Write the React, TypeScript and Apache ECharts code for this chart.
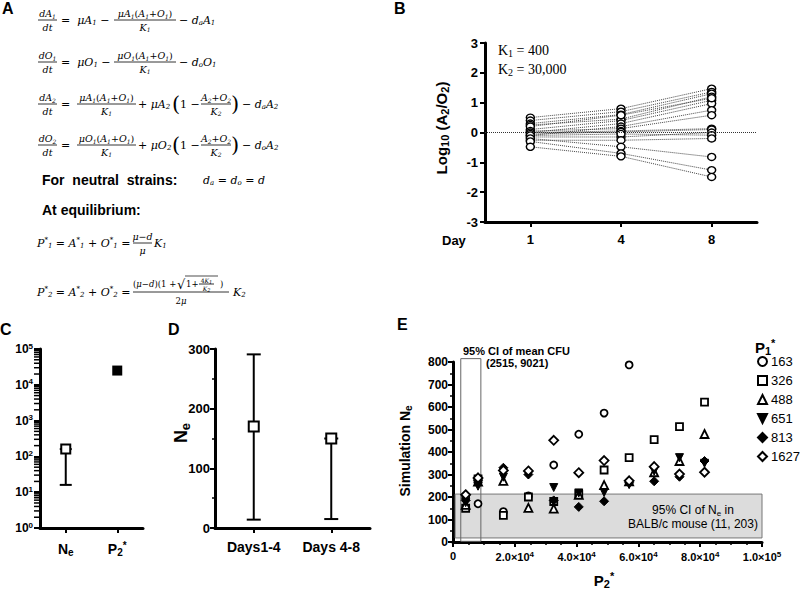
import React, { useEffect, useRef } from 'react';
import * as echarts from 'echarts';

// ---------- DATA ----------
const B_DAYS = ['1', '4', '8'];
const B_TRAJ: number[][] = [
  [0.5, 0.8, 1.47],
  [0.4, 0.7, 1.36],
  [0.3, 0.6, 1.3],
  [0.25, 0.45, 1.2],
  [0.1, 0.4, 1.08],
  [0.0, 0.3, 0.97],
  [0.2, 0.58, 1.15],
  [-0.1, 0.2, 0.75],
  [0.05, 0.13, 0.58],
  [0.0, 0.05, 0.13],
  [-0.05, 0.02, 0.1],
  [-0.15, -0.15, 0.0],
  [-0.1, -0.05, -0.09],
  [-0.26, -0.26, -0.2],
  [-0.2, -0.48, -0.82],
  [-0.3, -0.7, -1.26],
  [-0.48, -0.8, -1.49],
];
const B_PARAMS = ['K_1 = 400', 'K_2 = 30,000'];

const C_CATS = ['Ne', 'P2*'];
const C_NE = 160;
const C_NE_CI = [16, 160];
const C_P2 = 25000;
const C_DECADES = [1, 10, 100, 1000, 10000];
const C_MINOR_STEPS = [2, 3, 4, 5, 6, 7, 8, 9];

const D_CATS = ['Days1-4', 'Days 4-8'];
const D_VALUES = [170, 150];
const D_LOW = [14, 15];
const D_HIGH = [291, 150];

const E_P2 = [4100, 8100, 16300, 24400, 32600, 40700, 48900, 57000, 65100, 73300, 81400];
const E_NAMES = ['163', '326', '488', '651', '813', '1627'];
const E_163 = [200, 170, 135, 205, 342, 479, 573, 787, null, null, null];
const E_326 = [150, 280, 118, 200, 180, 213, 320, 375, 455, 513, 622];
const E_488 = [165, 268, 272, 152, 148, 210, 253, 270, 310, 360, 480];
const E_651 = [175, 248, 288, 300, 242, 218, 220, 255, 315, 375, 350];
const E_813 = [185, 275, 330, 300, 185, 156, 181, 263, 270, 290, 360];
const E_1627 = [210, 285, 318, 316, 452, 308, 362, 272, 335, 302, 310];
const E_NE_BAND = [18, 213]; // drawn extent of 95% CI of Ne (11, 203)
const E_NE_BAND_X = [700, 100000];
const E_CFU_BAND = [2515, 9021];
const E_CFU_BAND_Y = [3, 815];

// ---------- STYLE ----------
const SANS = "'Liberation Sans', Arial, sans-serif";
const SERIF = "'Liberation Serif', 'Times New Roman', serif";
const MATH = "'DejaVu Serif', serif";
const AX_LINE = { show: true, onZero: false, lineStyle: { color: '#000', width: 3 } };
const AX_TICK = { show: true, length: 5, lineStyle: { color: '#000', width: 2 } };
const lbl = (size: number, margin: number) => ({
  color: '#000', fontFamily: SANS, fontWeight: 'bold', fontSize: size, margin,
});
const supRich = (size: number) => ({
  b: { fontFamily: SANS, fontWeight: 'bold', fontSize: size, color: '#000' },
  p: { fontFamily: SANS, fontWeight: 'bold', fontSize: Math.round(size * 0.7), color: '#000', padding: [0, 0, Math.round(size * 0.5), 0] },
  s: { fontFamily: SANS, fontWeight: 'bold', fontSize: Math.round(size * 0.7), color: '#000', padding: [Math.round(size * 0.5), 0, 0, 0] },
});

function errorBar(cap: number) {
  return (params: any, api: any) => {
    const x = api.value(0);
    const lo = api.coord([x, api.value(1)]);
    const hi = api.coord([x, api.value(2)]);
    const st = { stroke: '#000', lineWidth: 2 };
    const h = cap / 2;
    return {
      type: 'group',
      children: [
        { type: 'line', shape: { x1: lo[0], y1: lo[1], x2: hi[0], y2: hi[1] }, style: st },
        { type: 'line', shape: { x1: lo[0] - h, y1: lo[1], x2: lo[0] + h, y2: lo[1] }, style: st },
        { type: 'line', shape: { x1: hi[0] - h, y1: hi[1], x2: hi[0] + h, y2: hi[1] }, style: st },
      ],
    };
  };
}

// log-spaced minor ticks on panel C's y axis, placed by the log axis itself
function minorTick(params: any, api: any) {
  const p = api.coord([0, api.value(1)]);
  const left = params.coordSys.x;
  return {
    type: 'line',
    shape: { x1: left - 6, y1: p[1], x2: left, y2: p[1] },
    style: { stroke: '#000', lineWidth: 1.5 },
  };
}

function buildOption(): any {
  const open = { color: '#fff', borderColor: '#000', borderWidth: 1.8, opacity: 1 };
  const filled = { color: '#000', borderColor: '#000', borderWidth: 1, opacity: 1 };
  const eSeries = [
    { arr: E_163, symbol: 'circle', size: 7, st: open },
    { arr: E_326, symbol: 'rect', size: 7, st: open },
    { arr: E_488, symbol: 'triangle', size: 8, st: open },
    { arr: E_651, symbol: 'path://M0,0 L10,0 L5,10 Z', size: 8, st: filled },
    { arr: E_813, symbol: 'diamond', size: 9, st: filled },
    { arr: E_1627, symbol: 'diamond', size: 9, st: open },
  ].map((s, i) => ({
    type: 'scatter',
    name: E_NAMES[i],
    xAxisIndex: 3,
    yAxisIndex: 3,
    symbol: s.symbol,
    symbolSize: s.size,
    itemStyle: s.st,
    z: 5,
    data: E_P2.map((x, j) => [x, s.arr[j]]).filter((d) => d[1] !== null),
  }));

  const bSeries = B_TRAJ.map((t, i) => ({
    type: 'line',
    xAxisIndex: 0,
    yAxisIndex: 0,
    data: t,
    symbol: 'circle',
    symbolSize: [8, 7],
    itemStyle: { color: '#fff', borderColor: '#000', borderWidth: 1.4, opacity: 1 },
    lineStyle: { type: 'dotted', color: '#444', width: 1 },
    silent: true,
    z: 3,
    markLine: i === 0 ? {
      silent: true,
      symbol: ['none', 'none'],
      label: { show: false },
      lineStyle: { type: 'dotted', color: '#333', width: 1 },
      data: [{ yAxis: 0 }],
    } : undefined,
  }));

  const cMinor: number[][] = [];
  C_DECADES.forEach((dec) => C_MINOR_STEPS.forEach((k) => cMinor.push([0, k * dec])));

  return {
    animation: false,
    backgroundColor: '#fff',
    grid: [
      { left: 485, top: 43, width: 272, height: 179 },
      { left: 40, top: 349, width: 103, height: 179 },
      { left: 215, top: 349, width: 155, height: 179 },
      { left: 453, top: 362, width: 309, height: 180 },
    ],
    xAxis: [
      {
        type: 'category', gridIndex: 0, data: B_DAYS, boundaryGap: true,
        axisLine: AX_LINE, axisTick: { ...AX_TICK, alignWithLabel: true },
        axisLabel: { ...lbl(13, 11), interval: 0 }, splitLine: { show: false },
      },
      {
        type: 'category', gridIndex: 1, data: C_CATS, boundaryGap: true,
        axisLine: AX_LINE, axisTick: { ...AX_TICK, alignWithLabel: true },
        axisLabel: {
          ...lbl(14, 12),
          interval: 0,
          formatter: (v: string) => (v === 'Ne' ? '{b|N}{s|e}' : '{b|P}{s|2}{p|*}'),
          rich: supRich(14),
        },
        splitLine: { show: false },
      },
      {
        type: 'category', gridIndex: 2, data: D_CATS, boundaryGap: true,
        axisLine: AX_LINE, axisTick: { ...AX_TICK, alignWithLabel: true },
        axisLabel: { ...lbl(14, 12), interval: 0 }, splitLine: { show: false },
      },
      {
        type: 'value', gridIndex: 3, min: 0, max: 100000, interval: 20000,
        axisLine: AX_LINE, axisTick: AX_TICK,
        minorTick: { show: true, splitNumber: 4, length: 3, lineStyle: { color: '#000', width: 1.5 } },
        axisLabel: {
          ...lbl(11, 8),
          formatter: (v: number) => {
            if (v === 0) return '{b|0}';
            const e = Math.floor(Math.log10(v) + 1e-9);
            return `{b|${(v / Math.pow(10, e)).toFixed(1)}×10}{p|${e}}`;
          },
          rich: supRich(11),
        },
        splitLine: { show: false },
      },
    ],
    yAxis: [
      {
        type: 'value', gridIndex: 0, min: -3, max: 3, interval: 1,
        axisLine: AX_LINE, axisTick: AX_TICK, axisLabel: lbl(13, 7), splitLine: { show: false },
      },
      {
        type: 'log', logBase: 10, gridIndex: 1, min: 1, max: 100000,
        axisLine: AX_LINE, axisTick: { ...AX_TICK, length: 6 },
        axisLabel: {
          ...lbl(12, 7),
          formatter: (v: number) => `{b|10}{p|${Math.round(Math.log10(v))}}`,
          rich: supRich(12),
        },
        splitLine: { show: false },
      },
      {
        type: 'value', gridIndex: 2, min: 0, max: 300, interval: 100,
        axisLine: AX_LINE, axisTick: AX_TICK,
        minorTick: { show: true, splitNumber: 2, length: 3, lineStyle: { color: '#000', width: 1.5 } },
        axisLabel: lbl(13, 5), splitLine: { show: false },
      },
      {
        type: 'value', gridIndex: 3, min: 0, max: 800, interval: 100,
        axisLine: AX_LINE, axisTick: AX_TICK,
        minorTick: { show: true, splitNumber: 2, length: 3, lineStyle: { color: '#000', width: 1.5 } },
        axisLabel: lbl(12, 5), splitLine: { show: false },
      },
    ],
    legend: {
      data: E_NAMES,
      orient: 'vertical',
      left: 757,
      top: 355,
      padding: 0,
      itemWidth: 9,
      itemHeight: 9,
      itemGap: 6,
      selectedMode: false,
      textStyle: { fontFamily: SANS, fontSize: 13, color: '#000', lineHeight: 12, padding: [0, 0, 0, -1] },
    },
    series: [
      ...bSeries,
      {
        type: 'custom', xAxisIndex: 1, yAxisIndex: 1, renderItem: minorTick, clip: false,
        encode: { x: 0, y: 1 }, data: cMinor, z: 6, silent: true,
      },
      {
        type: 'custom', xAxisIndex: 1, yAxisIndex: 1, renderItem: errorBar(12),
        encode: { x: 0, y: [1, 2] }, data: [[0, C_NE_CI[0], C_NE_CI[1]]], z: 3, silent: true,
      },
      {
        type: 'scatter', xAxisIndex: 1, yAxisIndex: 1, data: [[C_CATS[0], C_NE]],
        symbol: 'rect', symbolSize: 9, itemStyle: { color: '#fff', borderColor: '#000', borderWidth: 2, opacity: 1 }, z: 5,
      },
      {
        type: 'scatter', xAxisIndex: 1, yAxisIndex: 1, data: [[C_CATS[1], C_P2]],
        symbol: 'rect', symbolSize: 10, itemStyle: { color: '#000', opacity: 1 }, z: 5,
      },
      {
        type: 'custom', xAxisIndex: 2, yAxisIndex: 2, renderItem: errorBar(14),
        encode: { x: 0, y: [1, 2] }, data: D_CATS.map((_, i) => [i, D_LOW[i], D_HIGH[i]]), z: 3, silent: true,
      },
      {
        type: 'scatter', xAxisIndex: 2, yAxisIndex: 2, data: D_CATS.map((c, i) => [c, D_VALUES[i]]),
        symbol: 'rect', symbolSize: 10, itemStyle: { color: '#fff', borderColor: '#000', borderWidth: 2, opacity: 1 }, z: 5,
      },
      ...eSeries,
    ],
  };
}

// ---------- TEXT HELPERS ----------
function mrich(s: string, p: string): string {
  let out = '';
  let cur = '';
  let curStyle = '';
  const push = (style: string, ch: string) => {
    if (style !== curStyle) {
      if (cur) out += `{${curStyle}|${cur}}`;
      cur = '';
      curStyle = style;
    }
    cur += ch;
  };
  for (let i = 0; i < s.length; i++) {
    const c = s[i];
    if (c === '_') push(p + 's', s[++i]);
    else if (c === '^') push(p + 'p', s[++i]);
    else if (/[A-Za-zμ]/.test(c)) push(p + 'i', c);
    else push(p + 'n', c);
  }
  if (cur) out += `{${curStyle}|${cur}}`;
  return out;
}
function mathStyles(p: string, size: number) {
  const sub = Math.max(5, Math.round(size * 0.68));
  return {
    [p + 'i']: { fontFamily: MATH, fontStyle: 'italic', fontSize: size, fill: '#000' },
    [p + 'n']: { fontFamily: MATH, fontSize: size, fill: '#000' },
    [p + 's']: { fontFamily: MATH, fontStyle: 'italic', fontSize: sub, fill: '#000', padding: [Math.round(size * 0.5), 0, 0, 0] },
    [p + 'p']: { fontFamily: MATH, fontSize: sub, fill: '#000', padding: [0, 0, Math.round(size * 0.5), 0] },
  };
}
const RICH = { ...mathStyles('L', 11), ...mathStyles('S', 9.5), ...mathStyles('M', 8.5), ...mathStyles('T', 6) };

const T = (x: number, y: number, s: string, p: string, align = 'left') => ({
  type: 'text', x, y, z: 10,
  style: { text: mrich(s, p), rich: RICH, align, verticalAlign: 'middle', textAlign: align, textVerticalAlign: 'middle', fill: '#000' },
});
const L = (x1: number, y1: number, x2: number, y2: number, w = 0.8) => ({
  type: 'line', z: 10, shape: { x1, y1, x2, y2 }, style: { stroke: '#000', lineWidth: w },
});
const frac = (x: number, y: number, num: string, den: string, w: number, p = 'S') => {
  const off = p === 'T' ? 4 : 6.5;
  return [L(x, y, x + w, y), T(x + w / 2, y - off, num, p, 'center'), T(x + w / 2, y + off + 0.5, den, p, 'center')];
};
const paren = (x: number, y: number, ch: string) => ({
  type: 'text', x, y, z: 10,
  style: { text: ch, font: `21px ${MATH}`, fill: '#000', align: 'left', verticalAlign: 'middle', textAlign: 'left', textVerticalAlign: 'middle' },
});
const S = (x: number, y: number, text: string, size: number, weight = 'bold', align = 'left', rotation = 0, family = SANS) => {
  const r = supRich(size) as any;
  for (const k of Object.keys(r)) {
    r[k] = { ...r[k], fontWeight: weight, fontFamily: family, fill: '#000' };
  }
  return {
    type: 'text', x, y, rotation, z: 10,
    style: { text, rich: r, align, verticalAlign: 'middle', textAlign: align, textVerticalAlign: 'middle', fill: '#000' },
  };
};

function buildGraphics(chart: any): any[] {
  const g: any[] = [];
  // Panel labels
  g.push(S(2, 8, '{b|A}', 16));
  g.push(S(394, 8, '{b|B}', 16));
  g.push(S(0, 329, '{b|C}', 16));
  g.push(S(168, 329, '{b|D}', 16));
  g.push(S(397, 324, '{b|E}', 16));

  // Panel A equations
  g.push(...frac(38, 20, 'dA_1', 'dt', 19));
  g.push(T(61, 20, '=  μA_1 −', 'L'));
  g.push(...frac(114, 20, 'μA_1(A_1+O_1)', 'K_1', 62));
  g.push(T(179, 20, '− d_aA_1', 'L'));

  g.push(...frac(38, 62, 'dO_1', 'dt', 19));
  g.push(T(61, 62, '=  μO_1 −', 'L'));
  g.push(...frac(114, 62, 'μO_1(A_1+O_1)', 'K_1', 62));
  g.push(T(179, 62, '− d_oO_1', 'L'));

  const eq34 = (y: number, a: string, dsub: string) => {
    g.push(...frac(38, y, `d${a}_2`, 'dt', 19));
    g.push(T(61, y, '=', 'L'));
    g.push(...frac(77, y, `μ${a}_1(A_1+O_1)`, 'K_1', 59));
    g.push(T(138, y, `+ μ${a}_2`, 'L'));
    g.push(paren(172, y, '('));
    g.push(T(180, y, '1 −', 'L'));
    g.push(...frac(201, y, 'A_2+O_2', 'K_2', 30));
    g.push(paren(231, y, ')'));
    g.push(T(242, y, `− d_${dsub}A_2`, 'L'));
  };
  eq34(104, 'A', 'a');
  eq34(145, 'O', 'o');

  g.push(S(42, 180, '{b|For  neutral  strains:}', 14));
  g.push(T(203, 180, 'd_a = d_o = d', 'L'));
  g.push(S(42, 210, '{b|At equilibrium:}', 14));

  g.push(T(37, 243, 'P^*_1 = A^*_1 + O^*_1 =', 'L'));
  g.push(...frac(133, 243, 'μ−d', 'μ', 19));
  g.push(T(154, 243, 'K_1', 'L'));

  g.push(T(37, 292, 'P^*_2 = A^*_2 + O^*_2 =', 'L'));
  g.push(L(133, 292, 229, 292));
  g.push(T(133, 284, '(μ−d)(1 +', 'M'));
  g.push({
    type: 'text', x: 177, y: 284, z: 10,
    style: { text: '√', font: `13px ${MATH}`, fill: '#000', align: 'left', verticalAlign: 'middle', textAlign: 'left', textVerticalAlign: 'middle' },
  });
  g.push(L(185, 276, 218, 276, 0.7));
  g.push(T(186, 284, '1+', 'M'));
  g.push(...frac(199, 284, '4K_1', 'K_2', 15, 'T'));
  g.push(T(220, 284, ')', 'M'));
  g.push(T(181, 301, '2μ', 'M', 'center'));
  g.push(T(233, 292, 'K_2', 'L'));

  // Panel B texts
  g.push(S(441, 128, '{b|Log}{s|10}{b| (A}{s|2}{b|/O}{s|2}{b|)}', 15, 'bold', 'center', Math.PI / 2));
  g.push(S(442, 240, '{b|Day}', 13));
  B_PARAMS.forEach((p, i) => {
    const [k, rest] = p.split('_');
    g.push(S(498, 50 + i * 19, `{b|${k}}{s|${rest[0]}}{b|${rest.slice(1)}}`, 14, 'normal', 'left', 0, SERIF));
  });

  // Panel D label
  g.push(S(181, 433, '{b|N}{s|e}', 18, 'bold', 'center', Math.PI / 2));

  // Panel E
  g.push(S(405, 451, '{b|Simulation N}{s|e}', 14, 'bold', 'center', Math.PI / 2));
  g.push(S(604, 580, '{b|P}{s|2}{p|*}', 15, 'bold', 'center'));
  g.push(S(755, 347, '{b|P}{s|1}{p|*}', 15, 'bold', 'left'));
  g.push(S(463, 351, '{b|95% CI of mean CFU}', 11, 'bold', 'left'));
  g.push(S(486, 363, `{b|(${E_CFU_BAND[0]}, ${E_CFU_BAND[1]})}`, 11, 'bold', 'left'));
  g.push(S(693, 510, '{b|95% CI of N}{s|e}{b| in}', 12, 'normal', 'center'));
  g.push(S(693, 524, '{b|BALB/c mouse (11, 203)}', 12, 'normal', 'center'));

  const px = (x: number, y: number) => chart.convertToPixel({ gridIndex: 3 }, [x, y]);
  const a = px(E_NE_BAND_X[0], E_NE_BAND[1]);
  const b = px(E_NE_BAND_X[1], E_NE_BAND[0]);
  g.push({
    type: 'rect', z: 1,
    shape: { x: a[0], y: a[1], width: b[0] - a[0], height: b[1] - a[1] },
    style: { fill: '#dcdcdc', stroke: '#777', lineWidth: 1 },
  });
  const c = px(E_CFU_BAND[0], E_CFU_BAND_Y[1]);
  const d = px(E_CFU_BAND[1], E_CFU_BAND_Y[0]);
  g.push({
    type: 'rect', z: 2,
    shape: { x: c[0], y: c[1], width: d[0] - c[0], height: d[1] - c[1] },
    style: { fill: 'none', stroke: '#666', lineWidth: 1 },
  });
  return g;
}

export default function App() {
  const ref = useRef<HTMLDivElement>(null);
  useEffect(() => {
    const chart = echarts.init(ref.current!, null, { renderer: 'svg' });
    chart.setOption(buildOption());
    chart.setOption({ graphic: { elements: buildGraphics(chart) } });
    return () => chart.dispose();
  }, []);
  return (
    <div
      ref={ref}
      style={{ position: 'absolute', left: 0, top: 0, width: 800, height: 592, background: '#fff' }}
    />
  );
}
